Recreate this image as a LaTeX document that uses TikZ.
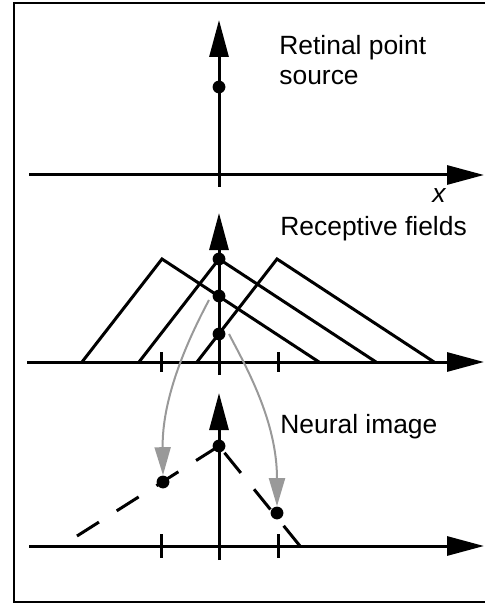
\documentclass[tikz,border=0pt]{standalone}
\usepackage{fontspec}
\setmainfont{Liberation Sans}
\usetikzlibrary{arrows.meta}

\begin{document}
\begin{tikzpicture}[x=0.5pt, y=-0.5pt,
  axis/.style={line width=1.5pt, -{Triangle[length=18.5pt, width=9.5pt]}},
  rf/.style={line width=1.5pt},
  tickmark/.style={line width=1.5pt},
  nimg/.style={line width=1.5pt, dash pattern=on 13pt off 10.5pt},
  blackdot/.style={circle, fill=black, inner sep=0pt, minimum size=6.4pt},
  grarr/.style={line width=1pt, black!40, -{Triangle[length=14pt, width=8pt]}},
  lbl/.style={font=\fontsize{13.2pt}{15pt}\selectfont, inner sep=0pt, align=left}]
\useasboundingbox (0,0) rectangle (484,604);
\draw[line width=1.4pt] (14,3) rectangle (495,602);

\draw[axis] (219,187) -- (219,20);
\draw[axis] (29,175) -- (484,175);
\node[blackdot] (src) at (219,87) {};
\node[lbl, anchor=base west] (srclbl) at (279,85) {Retinal point\\source};
\node[lbl, anchor=base west, font=\fontsize{13.2pt}{15pt}\selectfont\itshape] (xlbl) at (432,203) {x};

\draw[axis] (219,375) -- (219,213);
\draw[axis] (27,362) -- (484,362);
\foreach \t in {161,278}
  \draw[tickmark] (\t,352) -- (\t,372);
\foreach \c in {162,219,277}
  \draw[rf] (\c-80,362) -- (\c,259) -- (\c+157,362);
\node[blackdot] (m1) at (219,259) {};
\node[blackdot] (m2) at (219,296) {};
\node[blackdot] (m3) at (219,334) {};
\node[lbl, anchor=base west] (rflbl) at (280,235) {Receptive fields};

\draw[axis] (219,560) -- (219,393);
\draw[axis] (29,546) -- (484,546);
\foreach \t in {161,278}
  \draw[tickmark] (\t,534) -- (\t,558);
\coordinate (nl0) at (77,536);
\coordinate (nr0) at (300,546);
\node[blackdot] (ntop) at (219,446) {};
\node[blackdot] (nl) at (163,482) {};
\node[blackdot] (nr) at (277,513) {};
\draw[nimg] (nl0) -- (ntop.center);
\draw[nimg] (nr0) -- (ntop.center);
\node[lbl, anchor=base west] (nilbl) at (280,433) {Neural image};

\coordinate (gl) at (209,300);
\coordinate (gr) at (229,334);
\draw[grarr] (gl) .. controls (185,345) and (162,400) .. (nl.north);
\draw[grarr] (gr) .. controls (245,365) and (277,420) .. (nr.north);
\end{tikzpicture}
\end{document}
